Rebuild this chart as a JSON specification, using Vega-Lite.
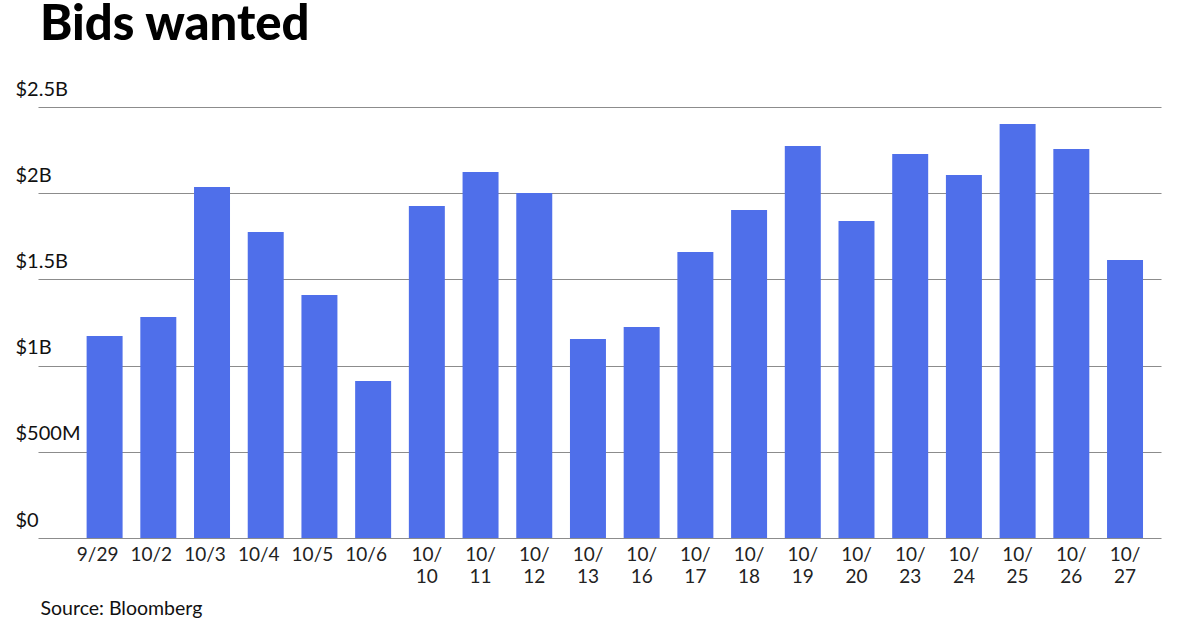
{
  "$schema": "https://vega.github.io/schema/vega-lite/v6.json",
  "width": 1123,
  "height": 431,
  "autosize": "none",
  "padding": {"left": 38, "top": 107, "right": 39, "bottom": 92},
  "background": "white",
  "title": {
    "text": "Bids wanted",
    "anchor": "start",
    "frame": "group",
    "font": "Lato",
    "fontSize": 49,
    "fontWeight": 900,
    "color": "#000000",
    "baseline": "alphabetic",
    "offset": -10,
    "dx": 2
  },
  "data": {
    "values": [
      {"date": "9/29", "value": 1.172},
      {"date": "10/2", "value": 1.282},
      {"date": "10/3", "value": 2.036},
      {"date": "10/4", "value": 1.775},
      {"date": "10/5", "value": 1.41},
      {"date": "10/6", "value": 0.911},
      {"date": "10/10", "value": 1.926},
      {"date": "10/11", "value": 2.123},
      {"date": "10/12", "value": 2.001},
      {"date": "10/13", "value": 1.154},
      {"date": "10/16", "value": 1.224},
      {"date": "10/17", "value": 1.659},
      {"date": "10/18", "value": 1.903},
      {"date": "10/19", "value": 2.274},
      {"date": "10/20", "value": 1.839},
      {"date": "10/23", "value": 2.227},
      {"date": "10/24", "value": 2.106},
      {"date": "10/25", "value": 2.401},
      {"date": "10/26", "value": 2.256},
      {"date": "10/27", "value": 1.613}
    ]
  },
  "mark": {"type": "bar", "color": "#4f6fea"},
  "encoding": {
    "x": {
      "field": "date",
      "type": "ordinal",
      "sort": null,
      "scale": {"paddingInner": 0.33, "paddingOuter": 0.62, "align": 0.73},
      "axis": {
        "title": "Source: Bloomberg",
        "titleFont": "Lato",
        "titleFontSize": 19.5,
        "titleFontWeight": "normal",
        "titleColor": "#111111",
        "titleAnchor": "start",
        "titleAlign": "left",
        "titleBaseline": "alphabetic",
        "titleX": 2,
        "titleY": 76,
        "labelAngle": 0,
        "labelFont": "Lato",
        "labelFontSize": 19,
        "labelColor": "#222222",
        "labelPadding": 7,
        "labelLineHeight": 22,
        "labelOffset": {"condition": {"test": "length(datum.value) <= 4", "value": -7}, "value": 0},
        "labelExpr": "length(datum.value) > 4 ? [slice(datum.value, 0, 3), slice(datum.value, 3)] : datum.value",
        "ticks": false,
        "domain": false
      }
    },
    "y": {
      "field": "value",
      "type": "quantitative",
      "scale": {"domain": [0, 2.5], "nice": false},
      "axis": {
        "title": null,
        "values": [0, 0.5, 1, 1.5, 2, 2.5],
        "labelExpr": "datum.value == 0 ? '$0' : datum.value < 1 ? '$' + format(datum.value * 1000, 'd') + 'M' : '$' + datum.value + 'B'",
        "labelFont": "Lato",
        "labelFontSize": 20,
        "labelColor": "#111111",
        "labelAlign": "left",
        "labelBaseline": "alphabetic",
        "labelPadding": 23,
        "labelOffset": -12,
        "ticks": false,
        "domain": false,
        "grid": true,
        "gridColor": "#8c8c8c",
        "gridWidth": 1.2
      }
    }
  },
  "config": {"view": {"stroke": null}}
}
